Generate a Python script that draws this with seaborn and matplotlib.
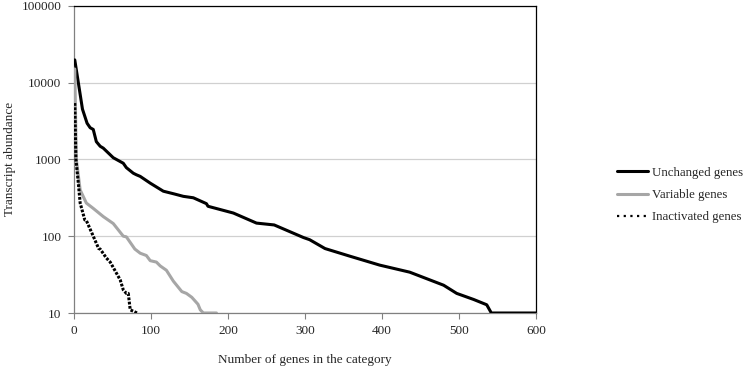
import matplotlib
matplotlib.use("Agg")
import matplotlib.pyplot as plt
import seaborn as sns
import pandas as pd
from matplotlib.lines import Line2D

# ---- data ----
unchanged_x = [1, 5.6, 11, 17, 21, 25, 29, 34, 38, 51, 64, 68, 77, 81, 86, 99, 116, 130, 142, 155,
               172, 174, 207, 228, 237, 260, 298, 306, 326, 358, 397, 436, 480, 497, 519, 536, 542, 600]
unchanged_y = [19700, 10000, 4500, 2950, 2580, 2450, 1700, 1480, 1400, 1050, 890, 780, 660, 630, 600, 490,
               385, 355, 330, 316, 265, 245, 200, 162, 148, 140, 96, 90, 69, 55, 42, 34, 23, 18, 15,
               12.8, 10, 10]

variable_x = [1, 3, 8, 16, 25, 38, 51, 64, 68, 79, 86, 94, 99, 107, 112, 120, 129, 140, 146, 153,
              161, 164, 168, 185]
variable_y = [15000, 1000, 400, 270, 230, 180, 146, 100, 98, 68, 60, 56, 48, 46, 41, 36, 26, 19, 18, 16,
              13, 11, 10, 10]

inactivated_x = [1, 2.5, 5.6, 8, 14, 16, 25, 32, 34, 42, 47, 53, 60, 64, 68, 70.5, 73, 82]
inactivated_y = [5400, 1000, 490, 270, 163, 160, 100, 69, 68, 52, 46, 36, 27, 20, 18, 18, 11, 10]

series_names = ["Unchanged genes", "Variable genes", "Inactivated genes"]
x_ticks = [0, 100, 200, 300, 400, 500, 600]
y_ticks = [10, 100, 1000, 10000, 100000]
y_tick_labels = ["10", "100", "1000", "10000", "100000"]

frames = []
for name, xs, ys in zip(series_names, [unchanged_x, variable_x, inactivated_x],
                        [unchanged_y, variable_y, inactivated_y]):
    frames.append(pd.DataFrame({"genes": xs, "abundance": ys, "series": name}))
df = pd.concat(frames, ignore_index=True)

# ---- styling ----
sns.set_style("white")
plt.rcParams["font.family"] = ["Liberation Serif", "DejaVu Serif"]
plt.rcParams["font.size"] = 9.5

fig = plt.figure(figsize=(7.44, 3.69), dpi=100)
ax = fig.add_axes([74 / 744, 1 - 313 / 369, (536 - 74) / 744, (313 - 5.7) / 369])

colors = {"Unchanged genes": "#000000", "Variable genes": "#a6a6a6", "Inactivated genes": "#000000"}
styles = {"Unchanged genes": "-", "Variable genes": "-", "Inactivated genes": (0, (0.9, 0.5))}

ax.set_yscale("log")
for name in series_names:
    sub = df[df["series"] == name]
    sns.lineplot(data=sub, x="genes", y="abundance", ax=ax, sort=False, estimator=None,
                 color=colors[name], linestyle=styles[name], linewidth=2.2,
                 legend=False, zorder=3)

ax.set_xlim(0, 600)
ax.set_ylim(10, 100000)
ax.set_xticks(x_ticks)
ax.set_xticklabels([str(t) for t in x_ticks], fontsize=9.5)
ax.set_yticks(y_ticks)
ax.set_yticklabels(y_tick_labels, fontsize=9.5)
ax.minorticks_off()
ax.yaxis.grid(True, color="#d0d0d0", linewidth=0.9)
ax.set_axisbelow(True)
ax.tick_params(axis="both", which="major", direction="out", length=4, width=0.8,
               color="#808080", pad=5, bottom=True, left=True)
for side in ["left", "bottom"]:
    ax.spines[side].set_color("#808080")
    ax.spines[side].set_linewidth(0.9)
for side in ["top", "right"]:
    ax.spines[side].set_visible(True)
    ax.spines[side].set_color("#000000")
    ax.spines[side].set_linewidth(0.9)

ax.set_xlabel("Number of genes in the category", fontsize=9.5, labelpad=12)
ax.set_ylabel("Transcript abundance", fontsize=9.5, labelpad=4)

handles = [Line2D([0], [0], color=colors["Unchanged genes"], linestyle="-", linewidth=2.2),
           Line2D([0], [0], color=colors["Variable genes"], linestyle="-", linewidth=2.2),
           Line2D([0], [0], color=colors["Inactivated genes"], linestyle=(0, (1, 2)), linewidth=1.6)]
fig.legend(handles, series_names, loc="center left", bbox_to_anchor=(617 / 744, 1 - 195 / 369),
           frameon=False, fontsize=9.3, handlelength=2.4, handletextpad=0.3, labelspacing=0.8,
           borderpad=0, borderaxespad=0)

fig.savefig("out.png", dpi=100)
